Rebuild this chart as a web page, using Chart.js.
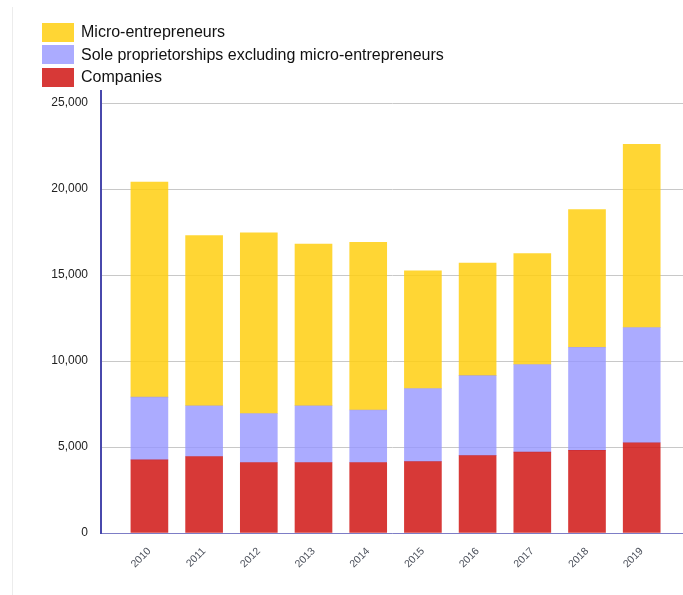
<!DOCTYPE html>
<html>
<head>
<meta charset="utf-8">
<script src="https://cdn.jsdelivr.net/npm/chart.js@4/dist/chart.umd.min.js"></script>
<style>
  html, body { margin: 0; padding: 0; background: #fff; }
  #wrap { position: relative; width: 683px; height: 595px; }
  #frame { position: absolute; left: 12px; top: 7px; bottom: 0; border-left: 1px solid #ececec; }
  #legend { position: absolute; left: 42px; top: 21px; font-family: "Liberation Sans", Arial, sans-serif; font-size: 16px; color: #111; }
  #legend .item { display: flex; align-items: center; height: 22.6px; }
  #legend .box { width: 32px; height: 19px; margin-right: 7px; }
</style>
</head>
<body>
<div id="wrap">
  <div id="frame"></div>
  <canvas id="businessChart" width="683" height="595"></canvas>
  <div id="legend"></div>
</div>
<script>
const years = ['2010', '2011', '2012', '2013', '2014', '2015', '2016', '2017', '2018', '2019'];
const companies = [4250, 4450, 4100, 4100, 4100, 4150, 4500, 4700, 4800, 5250];
const soleProprietorships = [3650, 2950, 2850, 3300, 3050, 4250, 4650, 5100, 6000, 6700];
const microEntrepreneurs = [12500, 9900, 10500, 9400, 9750, 6850, 6550, 6450, 8000, 10650];
const yTicks = [0, 5000, 10000, 15000, 20000, 25000];

// bars sit on a linear x axis so the first bar can be offset from the y axis
const toPoints = (values) => values.map((v, i) => ({ x: i, y: v }));

const ctx = document.getElementById('businessChart').getContext('2d');
const chart = new Chart(ctx, {
    type: 'bar',
    data: {
        datasets: [{
            label: 'Companies',
            data: toPoints(companies),
            backgroundColor: 'rgba(208, 22, 20, 0.85)'
        }, {
            label: 'Sole proprietorships excluding micro-entrepreneurs',
            data: toPoints(soleProprietorships),
            backgroundColor: 'rgba(150, 150, 255, 0.8)'
        }, {
            label: 'Micro-entrepreneurs',
            data: toPoints(microEntrepreneurs),
            backgroundColor: 'rgba(255, 207, 17, 0.85)'
        }]
    },
    options: {
        responsive: false,
        animation: false,
        layout: {
            padding: { top: 91, right: 0, bottom: 0, left: 0 }
        },
        datasets: {
            bar: { barThickness: 37 }
        },
        plugins: {
            legend: { display: false },
            tooltip: { enabled: false }
        },
        scales: {
            x: {
                type: 'linear',
                stacked: true,
                offset: false,
                min: -0.885,
                max: 9.755,
                afterBuildTicks: (axis) => {
                    axis.ticks = years.map((y, i) => ({ value: i }));
                },
                afterFit: (axis) => { axis.height = 62; },
                grid: { display: false },
                border: { color: '#7d7dc6', width: 1 },
                ticks: {
                    autoSkip: false,
                    minRotation: 45,
                    maxRotation: 45,
                    padding: 4,
                    color: '#4a4f5a',
                    font: { family: 'Liberation Sans', size: 10.5 },
                    callback: (value) => years[value]
                }
            },
            y: {
                stacked: true,
                min: 0,
                max: 25700,
                afterBuildTicks: (axis) => {
                    axis.ticks = yTicks.map((v) => ({ value: v }));
                },
                afterFit: (axis) => { axis.width = 101; },
                grid: { color: '#c8c8c8', drawTicks: false },
                border: { color: '#4848ac', width: 2 },
                ticks: {
                    padding: 13,
                    color: '#222',
                    font: { family: 'Liberation Sans', size: 12 },
                    callback: (value) => value.toLocaleString('en-US')
                }
            }
        }
    }
});

// legend list, top series first
const legendEl = document.getElementById('legend');
chart.data.datasets.slice().reverse().forEach((ds) => {
    const item = document.createElement('div');
    item.className = 'item';
    const box = document.createElement('span');
    box.className = 'box';
    box.style.background = ds.backgroundColor;
    const text = document.createElement('span');
    text.textContent = ds.label;
    item.appendChild(box);
    item.appendChild(text);
    legendEl.appendChild(item);
});
</script>
</body>
</html>
